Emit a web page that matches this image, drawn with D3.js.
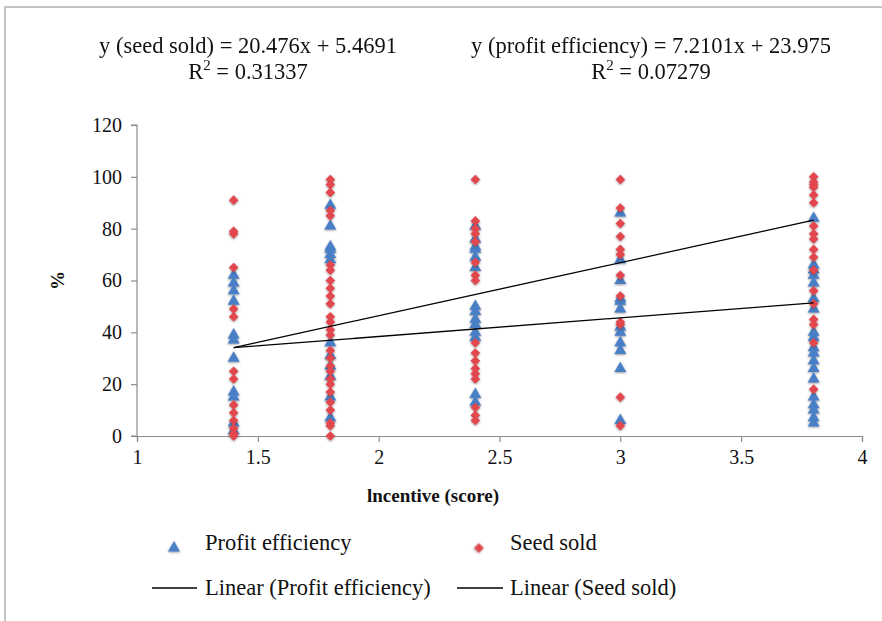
<!DOCTYPE html>
<html>
<head>
<meta charset="utf-8">
<script src="https://cdn.jsdelivr.net/npm/d3@7/dist/d3.min.js"></script>
<style>
  body { margin: 0; background: #fff; }
  text { font-family: "Liberation Serif", "Times New Roman", serif; fill: #111; }
</style>
</head>
<body>
<div id="chart"></div>
<script>
"use strict";

const width = 882;
const height = 621;

// incentive score levels
const xLevels = [1.4, 1.8, 2.4, 3.0, 3.8];

// profit efficiency (%) per level
const profitEff = [
  [62, 59, 56, 52, 39, 37, 30, 17, 15, 5, 2],
  [89, 81, 73, 72, 70, 68, 36, 31, 27, 23, 15, 7],
  [81, 76, 73, 72, 69, 65, 50, 48, 45, 43, 40, 38, 16, 13],
  [86, 68, 60, 53, 52, 49, 42, 40, 36, 33, 26, 6],
  [84, 66, 64, 62, 59, 53, 49, 40, 38, 34, 32, 29, 26, 22, 15, 12, 10, 7, 5]
];

// seed sold (%) per level
const seedSold = [
  [91, 79, 78, 65, 49, 46, 25, 22, 12, 9, 6, 3, 1, 0],
  [99, 97, 94, 87, 85, 66, 64, 60, 57, 54, 51, 46, 44, 41, 39, 33, 30, 27, 25, 22, 20, 17, 13, 10, 5, 4, 0],
  [99, 83, 80, 78, 75, 67, 62, 60, 36, 32, 29, 26, 24, 22, 11, 8, 6],
  [99, 88, 82, 77, 72, 70, 62, 54, 44, 43, 15, 4],
  [100, 98, 97, 96, 93, 90, 81, 78, 76, 72, 69, 64, 56, 51, 45, 43, 36, 18]
];

// trend line coefficients [slope, intercept]
const fitProfit = [7.2101, 23.975];
const fitSeed = [20.476, 5.4691];

const xTicks = [1, 1.5, 2, 2.5, 3, 3.5, 4];
const yTicks = [0, 20, 40, 60, 80, 100, 120];

const blue = "#4a7fc6";
const red = "#e2474d";

const svg = d3.select("#chart").append("svg")
  .attr("width", width)
  .attr("height", height);

const defs = svg.append("defs");
const f = defs.append("filter").attr("id", "sh")
  .attr("x", "-50%").attr("y", "-50%").attr("width", "200%").attr("height", "200%");
f.append("feDropShadow")
  .attr("dx", 0).attr("dy", 0.8)
  .attr("stdDeviation", 1.3)
  .attr("flood-color", "#333")
  .attr("flood-opacity", 0.55);

// outer frame
svg.append("path")
  .attr("d", "M5,621 L5,7 L882,7")
  .attr("fill", "none")
  .attr("stroke", "#c4c4c4")
  .attr("stroke-width", 2);

const x = d3.scaleLinear().domain([1, 4]).range([137, 862]);
const y = d3.scaleLinear().domain([0, 120]).range([436, 125]);

// axes
const xAxis = svg.append("g")
  .attr("transform", `translate(0,${y(0)})`)
  .call(d3.axisBottom(x).tickValues(xTicks).tickSize(6).tickPadding(8)
    .tickFormat(d3.format("")));
const yAxis = svg.append("g")
  .attr("transform", `translate(${x(1)},0)`)
  .call(d3.axisLeft(y).tickValues(yTicks).tickSize(6).tickPadding(9));

[xAxis, yAxis].forEach(a => {
  a.select(".domain").attr("stroke", "#8c8c8c").attr("stroke-width", 1.2);
  a.selectAll(".tick line").attr("stroke", "#8c8c8c").attr("stroke-width", 1.2);
  a.selectAll(".tick text")
    .attr("font-family", "Liberation Serif, serif")
    .attr("font-size", 20)
    .attr("fill", "#111");
});
yAxis.select(".domain").attr("d", `M-6,${y(120)}H0V${y(0)}H-6`);

// axis titles
svg.append("text")
  .attr("x", 433).attr("y", 502)
  .attr("text-anchor", "middle")
  .attr("font-size", 19).attr("font-weight", "bold")
  .text("lncentive (score)");

svg.append("text")
  .attr("transform", `translate(64,${y(60)}) rotate(-90)`)
  .attr("text-anchor", "middle")
  .attr("font-size", 19).attr("font-weight", "bold")
  .text("%");

// flatten points
const pePts = [];
profitEff.forEach((vals, i) => vals.forEach(v => pePts.push([xLevels[i], v])));
const ssPts = [];
seedSold.forEach((vals, i) => vals.forEach(v => ssPts.push([xLevels[i], v])));

const tri = d3.symbol().type(d3.symbolTriangle).size(62);
const dia = d3.symbol().type(d3.symbolSquare).size(46);

svg.append("g").attr("filter", "url(#sh)")
  .selectAll("path")
  .data(pePts)
  .enter().append("path")
  .attr("d", tri)
  .attr("transform", d => `translate(${x(d[0])},${y(d[1])})`)
  .attr("fill", blue);

svg.append("g").attr("filter", "url(#sh)")
  .selectAll("path")
  .data(ssPts)
  .enter().append("path")
  .attr("d", dia)
  .attr("transform", d => `translate(${x(d[0])},${y(d[1])}) rotate(45)`)
  .attr("fill", red);

// trend lines
const x0 = d3.min(xLevels), x1 = d3.max(xLevels);
[fitProfit, fitSeed].forEach(c => {
  svg.append("line")
    .attr("x1", x(x0)).attr("y1", y(c[0] * x0 + c[1]))
    .attr("x2", x(x1)).attr("y2", y(c[0] * x1 + c[1]))
    .attr("stroke", "#000").attr("stroke-width", 1.3);
});

// equations
function eq(cx, line1, r2) {
  svg.append("text").attr("text-anchor", "middle").attr("font-size", 22.5)
    .attr("x", cx).attr("y", 53).text(line1);
  const t2 = svg.append("text").attr("text-anchor", "middle").attr("font-size", 22.5)
    .attr("x", cx).attr("y", 79);
  t2.append("tspan").text("R");
  t2.append("tspan").attr("dy", -9).attr("font-size", 15).text("2");
  t2.append("tspan").attr("dy", 9).text(" = " + r2);
}
eq(248, `y (seed sold) = ${fitSeed[0]}x + ${fitSeed[1]}`, "0.31337");
eq(651, `y (profit efficiency) = ${fitProfit[0]}x + ${fitProfit[1]}`, "0.07279");

// legend
const lfs = 22.5;
const lg = svg.append("g");
lg.append("path").attr("d", tri).attr("filter", "url(#sh)")
  .attr("transform", "translate(174,548)").attr("fill", blue);
lg.append("text").attr("x", 205).attr("y", 550).attr("font-size", lfs).text("Profit efficiency");
lg.append("path").attr("d", dia).attr("filter", "url(#sh)")
  .attr("transform", "translate(479,548) rotate(45)").attr("fill", red);
lg.append("text").attr("x", 510).attr("y", 550).attr("font-size", lfs).text("Seed sold");
lg.append("line").attr("x1", 152).attr("x2", 197).attr("y1", 588).attr("y2", 588)
  .attr("stroke", "#000").attr("stroke-width", 1.3);
lg.append("text").attr("x", 205).attr("y", 595).attr("font-size", lfs).text("Linear (Profit efficiency)");
lg.append("line").attr("x1", 457).attr("x2", 503).attr("y1", 588).attr("y2", 588)
  .attr("stroke", "#000").attr("stroke-width", 1.3);
lg.append("text").attr("x", 510).attr("y", 595).attr("font-size", lfs).text("Linear (Seed sold)");
</script>
</body>
</html>
